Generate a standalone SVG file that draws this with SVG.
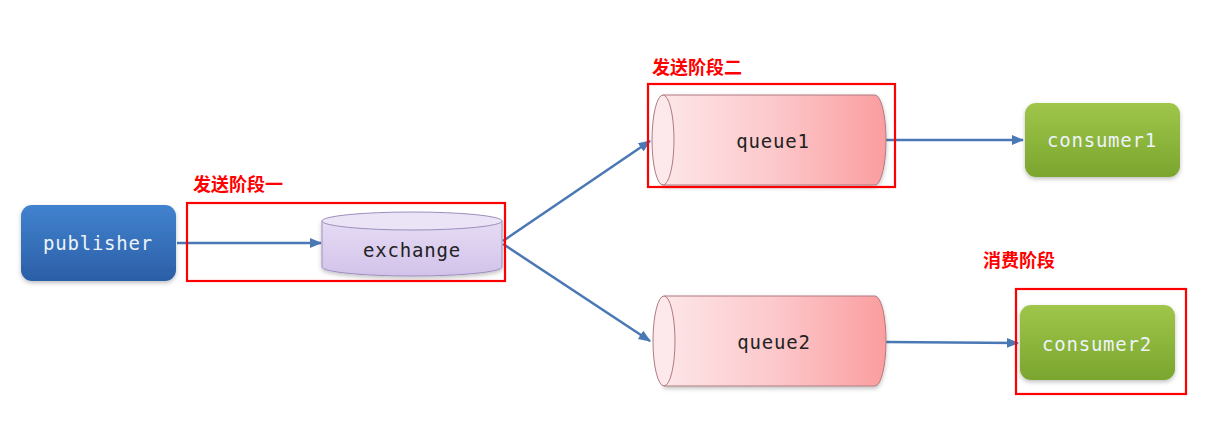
<svg xmlns="http://www.w3.org/2000/svg" width="1228" height="440" viewBox="0 0 1228 440">
<defs>
<linearGradient id="gBlue" x1="0" y1="0" x2="0" y2="1"><stop offset="0" stop-color="#4282cf"/><stop offset="1" stop-color="#2b5fa6"/></linearGradient>
<linearGradient id="gGreen" x1="0" y1="0" x2="0" y2="1"><stop offset="0" stop-color="#9fc64a"/><stop offset="1" stop-color="#7aa52e"/></linearGradient>
<linearGradient id="gQueue" x1="0" y1="0" x2="1" y2="0"><stop offset="0" stop-color="#fde6e8"/><stop offset="0.5" stop-color="#fcc8cb"/><stop offset="1" stop-color="#fb9d9f"/></linearGradient>
<linearGradient id="gEx" x1="0" y1="0" x2="0" y2="1"><stop offset="0" stop-color="#e6dcf4"/><stop offset="1" stop-color="#d2c2ea"/></linearGradient>
<filter id="sh" x="-10%" y="-10%" width="120%" height="130%"><feDropShadow dx="0" dy="2" stdDeviation="2" flood-color="#000" flood-opacity="0.25"/></filter>
<marker id="arr" viewBox="0 0 10 10" refX="9" refY="5" markerWidth="5" markerHeight="5" orient="auto" markerUnits="strokeWidth"><path d="M0,1 L10,5 L0,9 Z" fill="#4a78b5"/></marker>
<style>
.mono{font-family:"DejaVu Sans Mono","Liberation Mono",monospace;font-size:19px;letter-spacing:0.8px;text-anchor:middle;dominant-baseline:central}
.lt{fill:#eef3fa}
.dk{fill:#222}
.conn{stroke:#4a78b5;stroke-width:2.5;fill:none;marker-end:url(#arr)}
.frame{fill:none;stroke:#ff0000;stroke-width:2.2}
.lbl{font-family:"Noto Sans CJK SC","Noto Sans",sans-serif;font-size:18px;font-weight:bold;fill:#ff0000}
.cyl{stroke:#b07a80;stroke-width:1}
</style>
</defs>
<rect width="1228" height="440" fill="#ffffff"/>

<g id="connectors">
<line class="conn" x1="177" y1="243" x2="321" y2="243"/>
<line class="conn" x1="503" y1="241" x2="650" y2="141"/>
<line class="conn" x1="503" y1="244" x2="650" y2="341"/>
<line class="conn" x1="886" y1="140" x2="1023" y2="140"/>
<line class="conn" x1="886" y1="342" x2="1018" y2="343"/>
</g>

<g id="publisher">
<rect x="21" y="205" width="155" height="76" rx="11" fill="url(#gBlue)" filter="url(#sh)"/>
<text class="mono lt" x="98" y="243">publisher</text>
</g>

<g id="exchange">
<path d="M322,221 L322,267 A90,9 0 0 0 502,267 L502,221 Z" fill="url(#gEx)" stroke="#9d8fbd" stroke-width="1" filter="url(#sh)"/>
<ellipse cx="412" cy="221" rx="90" ry="9" fill="#ebe3f6" stroke="#9d8fbd" stroke-width="1"/>
<text class="mono dk" x="412" y="250">exchange</text>
</g>

<g id="queue1">
<path d="M663,95 L875,95 A11,45 0 0 1 875,185 L663,185 Z" fill="url(#gQueue)" class="cyl" filter="url(#sh)"/>
<ellipse cx="663" cy="140" rx="11" ry="45" fill="#fde9eb" class="cyl"/>
<text class="mono dk" x="773" y="141">queue1</text>
</g>

<g id="queue2">
<path d="M664,296 L875,296 A11,45 0 0 1 875,386 L664,386 Z" fill="url(#gQueue)" class="cyl" filter="url(#sh)"/>
<ellipse cx="664" cy="341" rx="11" ry="45" fill="#fde9eb" class="cyl"/>
<text class="mono dk" x="774" y="342">queue2</text>
</g>

<g id="consumer1">
<rect x="1025" y="103" width="155" height="74" rx="11" fill="url(#gGreen)" filter="url(#sh)"/>
<text class="mono lt" x="1102" y="140">consumer1</text>
</g>

<g id="consumer2">
<rect x="1020" y="305" width="155" height="75" rx="11" fill="url(#gGreen)" filter="url(#sh)"/>
<text class="mono lt" x="1097" y="344">consumer2</text>
</g>

<g id="stage1">
<rect class="frame" x="187" y="203" width="318" height="78"/>
<text class="lbl" x="193" y="191">发送阶段一</text>
</g>
<g id="stage2">
<rect class="frame" x="648" y="84" width="247" height="103"/>
<text class="lbl" x="652" y="74">发送阶段二</text>
</g>
<g id="stage3">
<rect class="frame" x="1016" y="289" width="170" height="105"/>
<text class="lbl" x="983" y="267">消费阶段</text>
</g>
</svg>
